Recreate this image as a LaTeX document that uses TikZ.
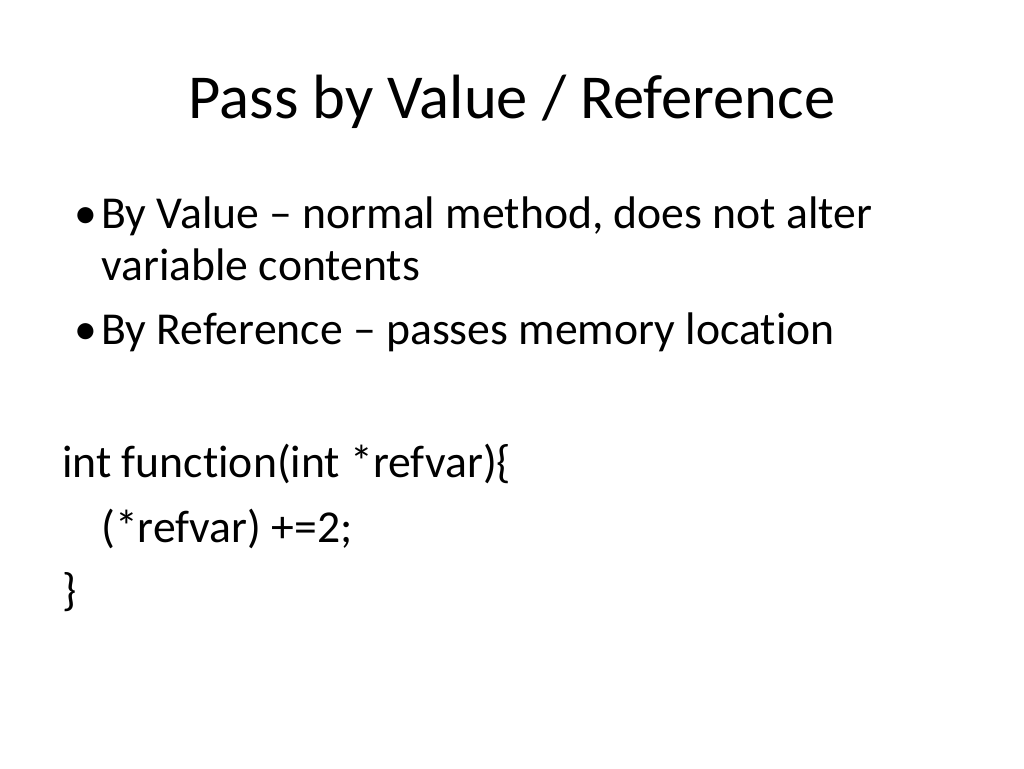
\documentclass[tikz,border=0pt]{standalone}
\usepackage{fontspec}
\setmainfont{Carlito}[Ligatures=NoCommon]
\usepackage{tikz}

\begin{document}
\begin{tikzpicture}[x=0.02cm,y=-0.02cm]
		\tikzstyle{every node}+=[inner sep=0pt, anchor=base west]
		\tikzset{titletext/.style={font=\fontsize{35.6}{42}\selectfont, anchor=base},
			bodytext/.style={font=\fontsize{26}{32}\selectfont}}
		\fill [white] (0,0) rectangle (1024,768);
		\draw (512,118) node [titletext] (title) {Pass by Value / Reference};
		\draw (74,228) node [bodytext] (dot1) {\textbullet};
		\draw (101,228) node [bodytext] (b1) {By Value -- normal method, does not alter};
		\draw (101,280) node [bodytext] (b1more) {variable contents};
		\draw (74,344) node [bodytext] (dot2) {\textbullet};
		\draw (101,344) node [bodytext] (b2) {By Reference -- passes memory location};
		\draw (62,477) node [bodytext] (code1) {int function(int *refvar)\{};
		\draw (101,542) node [bodytext] (code2) {(*refvar) +=2;};
		\draw (62,605) node [bodytext] (code3) {\}};
\end{tikzpicture}
\end{document}
